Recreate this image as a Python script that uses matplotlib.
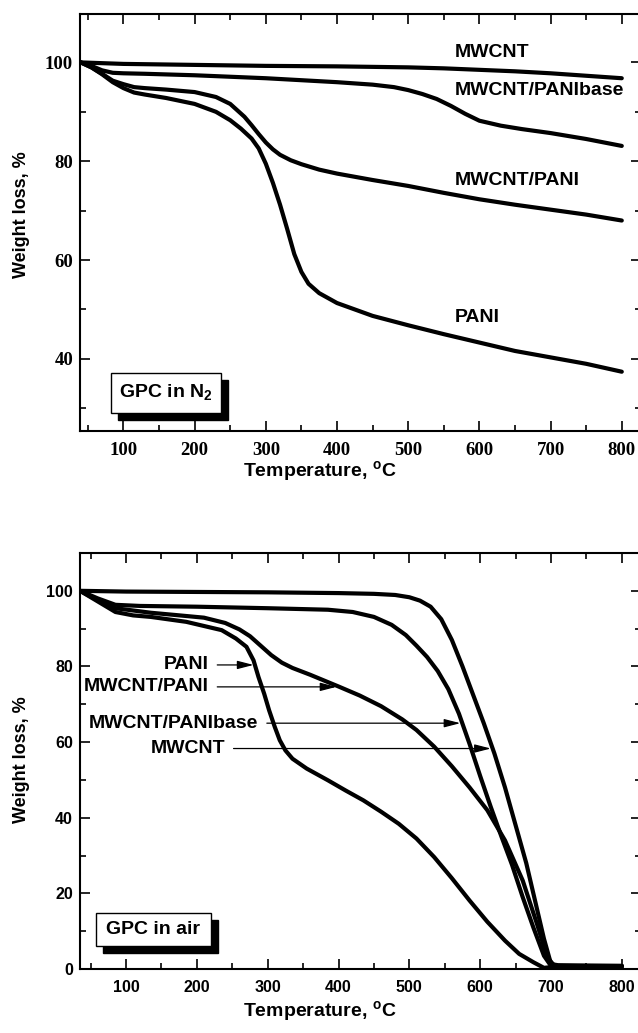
import matplotlib
matplotlib.use("Agg")
import matplotlib.pyplot as plt
from matplotlib.patches import Rectangle
from matplotlib.ticker import MultipleLocator
import numpy as np

plt.rcParams.update({"font.family": "Liberation Sans", "font.weight": "bold",
                     "xtick.direction": "in", "ytick.direction": "in",
                     "xtick.top": True, "ytick.right": True,
                     "axes.linewidth": 1.5})

SERIF = "Liberation Serif"
SANS = "Liberation Sans"

# ---------- TGA in nitrogen ----------
n2_mwcnt_t = [40, 60, 100, 150, 200, 300, 400, 500, 550, 600, 650, 700, 750, 800]
n2_mwcnt_w = [100, 99.9, 99.7, 99.6, 99.5, 99.3, 99.2, 99.0, 98.8, 98.5, 98.2, 97.8, 97.3, 96.8]

n2_base_t = [40, 55, 70, 85, 100, 130, 200, 300, 400, 450, 480, 500, 520, 540, 560, 580,
             600, 630, 660, 700, 750, 800]
n2_base_w = [100, 99.3, 98.4, 97.9, 97.8, 97.7, 97.4, 96.8, 96.0, 95.5, 95.0, 94.4, 93.6, 92.6,
             91.2, 89.6, 88.2, 87.2, 86.5, 85.7, 84.5, 83.1]

n2_comp_t = [40, 55, 70, 85, 100, 115, 130, 160, 200, 230, 250, 270, 280, 290, 300, 310, 320,
             335, 350, 375, 400, 450, 500, 550, 600, 650, 700, 750, 800]
n2_comp_w = [100, 99.0, 97.7, 96.3, 95.6, 95.0, 94.8, 94.5, 94.0, 93.0, 91.6, 89.0, 87.3, 85.5,
             83.8, 82.4, 81.3, 80.2, 79.4, 78.3, 77.5, 76.2, 75.0, 73.6, 72.3, 71.2, 70.2, 69.2,
             68.0]

n2_pani_t = [40, 55, 70, 85, 100, 115, 130, 160, 200, 230, 250, 265, 280, 290, 300, 310, 320,
             330, 340, 350, 360, 375, 400, 450, 500, 550, 600, 650, 700, 750, 800]
n2_pani_w = [100, 99.0, 97.6, 96.0, 94.8, 93.9, 93.5, 92.8, 91.6, 90.0, 88.3, 86.6, 84.6, 82.6,
             79.5, 75.6, 71.2, 66.3, 61.2, 57.6, 55.2, 53.3, 51.3, 48.7, 46.8, 45.0, 43.3, 41.6,
             40.3, 39.0, 37.4]

# ---------- TGA in air ----------
air_mwcnt_t = [35, 100, 200, 300, 400, 450, 480, 500, 515, 530, 545, 560, 575, 590, 605, 620,
               635, 650, 665, 680, 690, 700, 710, 750, 800]
air_mwcnt_w = [100, 99.8, 99.7, 99.6, 99.4, 99.2, 98.9, 98.3, 97.4, 95.8, 92.5, 87.0, 80.0,
               72.5, 65.0, 57.0, 48.0, 38.0, 28.0, 16.0, 8.0, 1.3, 1.0, 0.9, 0.8]

air_base_t = [35, 60, 85, 120, 200, 300, 385, 420, 450, 475, 495, 510, 525, 540, 555, 570, 585,
              600, 615, 630, 645, 660, 675, 690, 700, 750, 800]
air_base_w = [100, 98.0, 96.3, 96.0, 95.8, 95.4, 95.0, 94.4, 93.1, 91.0, 88.3, 85.5, 82.5, 78.8,
              74.0, 67.5, 59.5, 51.0, 42.8, 35.0, 27.5, 19.0, 11.0, 3.5, 0.8, 0.8, 0.8]

air_comp_t = [35, 60, 85, 110, 135, 170, 210, 240, 260, 275, 290, 305, 320, 335, 360, 400, 430,
              460, 490, 510, 535, 560, 585, 610, 635, 660, 680, 695, 705, 750, 800]
air_comp_w = [100, 97.5, 95.4, 94.8, 94.2, 93.6, 92.9, 91.5, 89.8, 88.0, 85.5, 83.0, 81.0, 79.6,
              77.8, 74.7, 72.3, 69.5, 66.0, 63.2, 58.8, 53.6, 48.0, 42.0, 34.0, 23.4, 12.0, 3.0,
              0.8, 0.8, 0.8]

air_pani_t = [35, 60, 85, 110, 135, 185, 235, 255, 270, 280, 287, 295, 302, 310, 317, 325, 335,
              355, 385, 410, 435, 460, 485, 510, 535, 560, 585, 610, 635, 655, 675, 690, 700,
              750, 800]
air_pani_w = [100, 97.2, 94.4, 93.5, 93.1, 91.8, 89.6, 87.4, 85.2, 81.6, 77.2, 72.8, 68.4, 64.0,
              60.5, 57.8, 55.6, 53.0, 49.9, 47.2, 44.6, 41.6, 38.4, 34.5, 29.6, 24.0, 18.1, 12.5,
              7.5, 4.0, 1.8, 0.3, 0.5, 0.5, 0.5]

# curve labels in air: (text, label x, arrow tip x, y)
air_labels = [("PANI", 217, 280, 80.4),
              ("MWCNT/PANI", 217, 397, 74.6),
              ("MWCNT/PANIbase", 287, 572, 65.0),
              ("MWCNT", 240, 615, 58.3)]

LW = 3.0


def style_axes(ax, tick_font, tick_size):
    ax.xaxis.set_major_locator(MultipleLocator(100))
    ax.xaxis.set_minor_locator(MultipleLocator(50))
    ax.yaxis.set_major_locator(MultipleLocator(20))
    ax.yaxis.set_minor_locator(MultipleLocator(10))
    ax.tick_params(which="major", length=7, width=1.2)
    ax.tick_params(which="minor", length=4, width=1.2, top=True, right=True)
    ax.tick_params(axis="x", which="major", pad=8)
    ax.tick_params(axis="y", which="major", pad=5)
    for lbl in ax.get_xticklabels() + ax.get_yticklabels():
        lbl.set_fontfamily(tick_font)
        lbl.set_fontsize(tick_size)
        lbl.set_fontweight("bold")


def shadow_box(ax, x0, y0, x1, y1, text):
    dx, dy = 0.0126, 0.017
    ax.add_patch(Rectangle((x0 + dx, y0 - dy), x1 - x0, y1 - y0, transform=ax.transAxes,
                           fc="black", ec="black", lw=1, zorder=5))
    ax.add_patch(Rectangle((x0, y0), x1 - x0, y1 - y0, transform=ax.transAxes,
                           fc="white", ec="black", lw=1, zorder=6))
    ax.text((x0 + x1) / 2, (y0 + y1) / 2, text, transform=ax.transAxes, ha="center",
            va="center", fontsize=14, fontweight="bold", family=SANS, zorder=7)


def draw(ax, t, w):
    ax.plot(t, w, color="black", lw=LW, solid_capstyle="round", solid_joinstyle="round")


fig = plt.figure(figsize=(6.38, 10.33), dpi=100)

# top: nitrogen (right spine falls just past the figure edge)
ax1 = fig.add_axes([80 / 638, 1 - 431 / 1033, 561 / 638, 417 / 1033])
draw(ax1, n2_mwcnt_t, n2_mwcnt_w)
draw(ax1, n2_base_t, n2_base_w)
draw(ax1, n2_comp_t, n2_comp_w)
draw(ax1, n2_pani_t, n2_pani_w)
ax1.set_xlim(39, 827)
ax1.set_ylim(25.4, 109.8)
style_axes(ax1, SERIF, 13.5)
for txt, y in [("MWCNT", 102.1), ("MWCNT/PANIbase", 94.3), ("MWCNT/PANI", 76.2), ("PANI", 48.4)]:
    ax1.text(566, y, txt, ha="left", va="center", fontsize=14, fontweight="bold", family=SANS)
shadow_box(ax1, 0.055, 0.044, 0.252, 0.14, "GPC in N$_\\mathregular{2}$")

# bottom: air
ax2 = fig.add_axes([80 / 638, 1 - 969 / 1033, 561 / 638, 416 / 1033])
draw(ax2, air_mwcnt_t, air_mwcnt_w)
draw(ax2, air_base_t, air_base_w)
draw(ax2, air_comp_t, air_comp_w)
draw(ax2, air_pani_t, air_pani_w)
ax2.set_xlim(35, 827)
ax2.set_ylim(0, 110)
style_axes(ax2, SANS, 11.5)
for txt, xl, xa, y in air_labels:
    ax2.annotate(txt, xy=(xa, y), xytext=(xl, y), ha="right", va="center", fontsize=14,
                 fontweight="bold", family=SANS,
                 arrowprops=dict(arrowstyle="-|>,head_length=0.7,head_width=0.18", lw=0.9,
                                 color="black", shrinkA=4, shrinkB=0))
shadow_box(ax2, 0.029, 0.055, 0.233, 0.135, "GPC in air")

# axis titles
for yc in (215, 760):
    fig.text(22 / 638, 1 - yc / 1033, "Weight loss, %", rotation=90, ha="center", va="center",
             fontsize=13, fontweight="bold", family=SANS)
for yc in (472, 1012):
    fig.text(320 / 638, 1 - yc / 1033, "Temperature, $^\\mathregular{o}$C", ha="center",
             va="center", fontsize=14, fontweight="bold", family=SANS)

fig.savefig("out.png", dpi=100)
